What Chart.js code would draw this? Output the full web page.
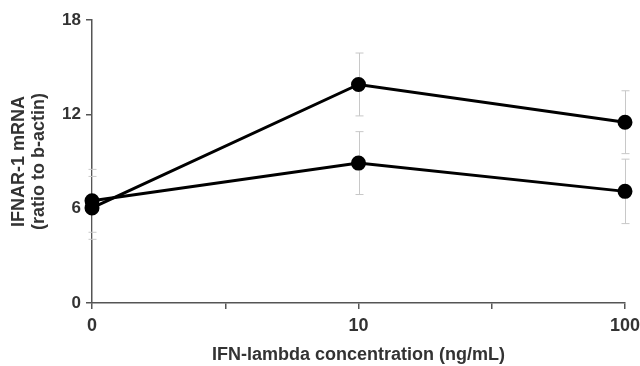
<!DOCTYPE html>
<html>
<head>
<meta charset="utf-8">
<script src="https://cdn.jsdelivr.net/npm/chart.js@4"></script>
<style>
    html, body { margin: 0; padding: 0; background: #fff; }
    #wrap { width: 640px; height: 366px; }
</style>
</head>
<body>
<div id="wrap"><canvas id="mrnaChart"></canvas></div>
<script>
// dose labels sit at x = 0, 1, 2 on a linear axis
const doseLabels = ["0", "10", "100"];
const yTicks = [0, 6, 12, 18];

// two lines, values
const upperMean = [6.05, 13.9, 11.5];
const upperErr = [2.0, 2.0, 2.0];
const lowerMean = [6.5, 8.9, 7.1];
const lowerErr = [2.0, 2.0, 2.05];

const axisColor = "#555";
const textColor = "#333";
const family = "'Liberation Sans', Arial, sans-serif";
const bigFont = { family: family, size: 18, weight: "bold" };
const tickFont = { family: family, size: 17, weight: "bold" };

function toPoints(vals, errs) {
    return vals.map((v, i) => ({ x: i, y: v, err: errs[i] }));
}

// light grey error bars, drawn under the lines
const errorBars = {
    id: "errorBars",
    beforeDatasetsDraw(chart) {
        const ctx = chart.ctx;
        const xs = chart.scales.x, ys = chart.scales.y;
        ctx.save();
        ctx.strokeStyle = "#c8c8c8";
        ctx.lineWidth = 1;
        chart.data.datasets.forEach(ds => {
            ds.data.forEach(p => {
                const px = Math.round(xs.getPixelForValue(p.x)) + 0.5;
                const top = ys.getPixelForValue(p.y + p.err);
                const bot = ys.getPixelForValue(p.y - p.err);
                ctx.beginPath();
                ctx.moveTo(px, top); ctx.lineTo(px, bot);
                ctx.moveTo(px - 4, top); ctx.lineTo(px + 4, top);
                ctx.moveTo(px - 4, bot); ctx.lineTo(px + 4, bot);
                ctx.stroke();
            });
        });
        ctx.restore();
    }
};

function lineSet(vals, errs) {
    return {
        data: toPoints(vals, errs),
        borderColor: "#000",
        backgroundColor: "#000",
        borderWidth: 3,
        pointRadius: 6,
        pointHoverRadius: 6,
        tension: 0,
        clip: false
    };
}

window.onload = () => {
    const ctx = document.getElementById("mrnaChart").getContext("2d");
    new Chart(ctx, {
        type: "line",
        data: { datasets: [lineSet(upperMean, upperErr), lineSet(lowerMean, lowerErr)] },
        plugins: [errorBars],
        options: {
            responsive: true,
            maintainAspectRatio: false,
            animation: false,
            layout: { padding: { top: 20, right: 0, left: 0, bottom: 0 } },
            plugins: { legend: { display: false }, tooltip: { enabled: false } },
            scales: {
                x: {
                    type: "linear",
                    min: 0, max: 2,
                    afterFit: s => { s.height = 63; s.paddingRight = 15; s.paddingLeft = 0; },
                    ticks: {
                        stepSize: 0.5,
                        autoSkip: false,
                        maxRotation: 0,
                        padding: 6,
                        color: textColor,
                        font: bigFont,
                        callback: v => Number.isInteger(v) ? doseLabels[v] : ""
                    },
                    grid: { drawOnChartArea: false, drawTicks: true, tickLength: 6, color: axisColor, lineWidth: 1.5 },
                    border: { color: axisColor, width: 1.5 },
                    title: {
                        display: true,
                        text: "IFN-lambda concentration (ng/mL)",
                        color: textColor,
                        font: bigFont,
                        padding: { top: 8, bottom: 0 }
                    }
                },
                y: {
                    min: 0, max: 18,
                    afterFit: s => { s.width = 92; },
                    afterBuildTicks: s => { s.ticks = yTicks.map(v => ({ value: v })); },
                    ticks: { padding: 5, color: textColor, font: tickFont },
                    grid: { drawOnChartArea: false, drawTicks: true, tickLength: 6, color: axisColor, lineWidth: 1.5 },
                    border: { color: axisColor, width: 1.5 },
                    title: {
                        display: true,
                        text: ["IFNAR-1 mRNA", "(ratio to b-actin)"],
                        color: textColor,
                        font: { ...bigFont, lineHeight: 1.1 },
                        padding: { top: 9, bottom: 0 }
                    }
                }
            }
        }
    });
};
</script>
</body>
</html>
